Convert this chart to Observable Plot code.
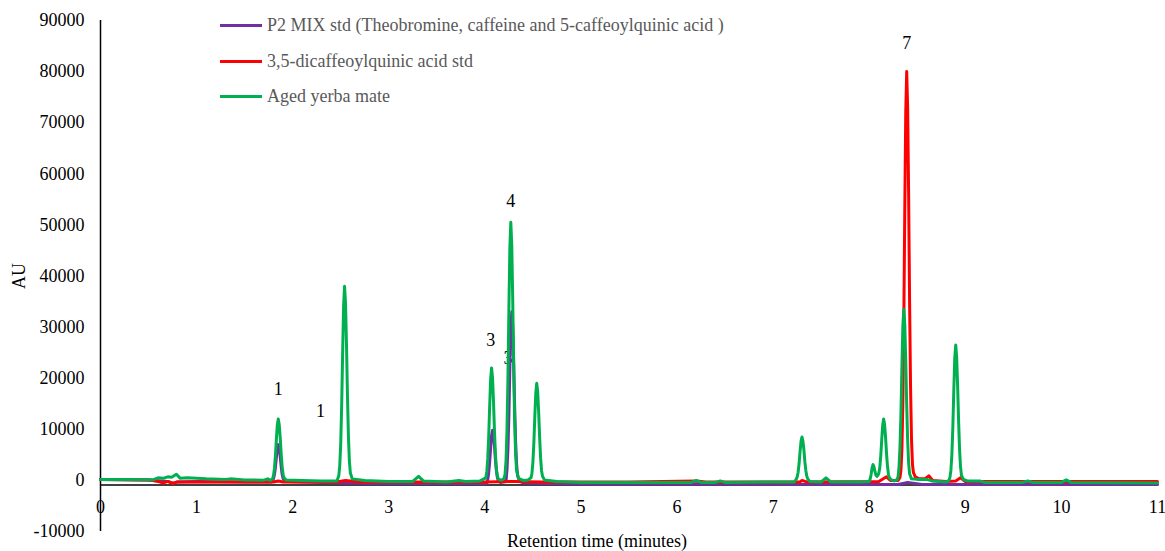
<!DOCTYPE html>
<html><head><meta charset="utf-8">
<script src="https://cdn.jsdelivr.net/npm/d3@7"></script>
<script src="https://cdn.jsdelivr.net/npm/@observablehq/plot@0.6"></script>
<style>
body{margin:0;background:#fff;}
#wrap{position:relative;width:1165px;height:551px;font-family:"Liberation Serif","Times New Roman",serif;}
#chart svg text{font-family:"Liberation Serif","Times New Roman",serif !important;}
#legend{position:absolute;left:220px;top:8px;font-size:18px;color:#595959;font-family:"Liberation Serif","Times New Roman",serif;}
.item{display:flex;align-items:center;height:35.5px;white-space:nowrap;}
.sw{width:42px;height:3px;margin-right:5px;}
</style></head><body><div id="wrap"><div id="chart"></div><div id="legend"></div></div>
<script>
const seriesNames = ["P2 MIX std (Theobromine, caffeine and 5-caffeoylquinic acid )", "3,5-dicaffeoylquinic acid std", "Aged yerba mate"];
const seriesColors = ["#7030A0", "#FF0000", "#00B050"];
const xTicks = [0,1,2,3,4,5,6,7,8,9,10,11];
const yTicks = [-10000,0,10000,20000,30000,40000,50000,60000,70000,80000,90000];

// [time (min), AU]
const p2Mix = [
 [0,200],[0.5,100],[0.7,-200],[0.76,-600],[0.8,-300],[1.0,-200],[1.5,-300],[1.78,-300],
 [1.79,-100],[1.80,300],[1.81,1100],[1.82,2500],[1.83,4400],[1.84,6200],[1.85,7000],[1.86,6300],
 [1.87,4700],[1.88,2800],[1.89,1200],[1.90,400],[1.92,-200],
 [2.5,-500],[3.0,-600],[4.02,-600],
 [4.03,100],[4.04,1500],[4.05,3600],[4.06,6300],[4.07,8800],[4.08,9800],[4.09,8900],[4.10,6700],
 [4.11,4000],[4.12,1900],[4.13,600],[4.14,-100],[4.16,-400],
 [4.22,-200],[4.23,2000],[4.24,6000],[4.25,12700],[4.26,21900],[4.27,29800],[4.28,33000],[4.29,30000],
 [4.30,23100],[4.31,14500],[4.32,7600],[4.33,3300],[4.34,1000],[4.36,-200],[4.4,-500],
 [4.6,-600],[5.0,-700],[8.0,-800],[8.3,-800],[8.4,-400],[8.55,-800],[11,-800]
];
const dicqa = [
 [0,200],[0.5,100],[0.6,-200],[0.65,-500],[0.7,-200],[0.75,-600],[0.8,-300],[0.9,-300],[1.2,-300],
 [1.8,-300],[1.85,-100],[1.9,-300],[2.45,-300],[2.55,0],[2.7,-300],[4.0,-300],[4.3,-200],[4.6,-300],
 [5.5,-300],[6.2,-100],[6.3,-300],[7.28,-300],[7.3,0],[7.35,-300],[8.1,-200],[8.18,700],[8.22,0],[8.3,0],
 [8.32,600],[8.33,2000],[8.34,6000],[8.35,15200],[8.36,31200],[8.37,52800],[8.38,72000],[8.39,80000],
 [8.40,72800],[8.41,56000],[8.42,35200],[8.43,18400],[8.44,8000],[8.45,3200],[8.46,1500],[8.48,700],
 [8.52,300],[8.58,300],[8.62,900],[8.66,0],[8.8,-200],[8.9,-100],[8.95,500],[9.0,-200],[11,-200]
];
const agedYerbaMate = [
 [0,200],[0.3,200],[0.55,150],[0.6,500],[0.65,400],[0.7,700],[0.74,600],[0.79,1200],[0.83,400],
 [0.9,500],[1.0,400],[1.1,300],[1.3,200],[1.35,300],[1.5,100],[1.7,50],[1.74,300],[1.77,0],
 [1.79,300],[1.80,900],[1.81,2300],[1.82,4700],[1.83,7900],[1.84,10800],[1.85,12000],[1.86,10900],
 [1.87,8400],[1.88,5300],[1.89,2800],[1.90,1200],[1.91,500],[1.93,100],
 [2.1,0],[2.3,-100],[2.46,-100],
 [2.48,900],[2.49,2900],[2.50,7200],[2.51,14800],[2.52,25000],[2.53,34200],[2.54,38000],[2.55,34600],
 [2.56,26600],[2.57,16700],[2.58,8700],[2.59,3800],[2.60,1500],[2.62,300],
 [2.75,0],[3.0,-200],[3.25,-200],[3.31,800],[3.36,-100],[3.6,-300],[3.73,0],[3.8,-200],[3.95,-100],
 [3.99,300],
 [4.01,500],[4.02,1700],[4.03,4200],[4.04,8600],[4.05,14500],[4.06,19800],[4.07,22000],[4.08,20000],
 [4.09,15400],[4.10,9700],[4.11,5100],[4.12,2200],[4.13,900],[4.14,300],[4.16,100],[4.18,100],[4.20,400],
 [4.21,1200],[4.22,3800],[4.23,9600],[4.24,19700],[4.25,33300],[4.26,45500],[4.27,50500],[4.28,46000],
 [4.29,35400],[4.30,22200],[4.31,11600],[4.32,5100],[4.33,2000],[4.35,400],[4.40,0],[4.45,100],
 [4.48,500],[4.49,1400],[4.50,3600],[4.51,7400],[4.52,12500],[4.53,17100],[4.54,19000],[4.55,17300],
 [4.56,13300],[4.57,8400],[4.58,4400],[4.59,1900],[4.60,800],[4.62,100],
 [4.75,-200],[5.0,-400],[6.15,-400],[6.2,0],[6.25,-400],[6.4,-400],[6.45,-100],[6.5,-400],
 [7.0,-300],[7.22,-300],
 [7.24,200],[7.25,650],[7.26,1600],[7.27,3300],[7.28,5600],[7.29,7650],[7.30,8500],[7.31,7700],
 [7.32,6000],[7.33,3700],[7.34,2000],[7.35,850],[7.36,300],[7.38,-200],
 [7.5,-300],[7.55,500],[7.6,-300],[7.9,-300],[8.0,-200],
 [8.01,300],[8.02,1200],[8.03,2500],[8.04,3100],[8.05,2600],[8.06,1700],[8.07,1000],[8.08,800],
 [8.09,1000],[8.10,1400],[8.11,2500],[8.12,4800],[8.13,7900],[8.14,10800],[8.15,12000],[8.16,10900],
 [8.17,8400],[8.18,5300],[8.19,2800],[8.20,1200],[8.21,500],[8.23,100],[8.26,-100],[8.28,0],[8.29,200],
 [8.30,700],[8.31,2600],[8.32,6500],[8.33,13000],[8.34,22100],[8.35,30200],[8.36,33500],[8.37,30500],
 [8.38,23500],[8.39,14700],[8.40,7700],[8.41,3400],[8.42,1300],[8.44,300],
 [8.5,200],[8.6,200],[8.65,-100],[8.8,-300],[8.83,0],
 [8.84,600],[8.85,2000],[8.86,5000],[8.87,10300],[8.88,17500],[8.89,23900],[8.90,26500],[8.91,24100],
 [8.92,18500],[8.93,11700],[8.94,6100],[8.95,2700],[8.96,1000],[8.98,200],
 [9.02,-100],[9.15,-100],[9.2,-400],[9.6,-400],[9.65,-100],[9.7,-400],[10.0,-400],[10.05,100],[10.1,-400],[11,-500]
];
const peakLabels = [
 {t:1.85, v:17800, label:"1"},
 {t:2.29, v:13500, label:"1"},
 {t:4.06, v:27400, label:"3"},
 {t:4.24, v:24000, label:"3"},
 {t:4.27, v:54600, label:"4"},
 {t:8.39, v:85500, label:"7"}
];
const xLabel = "Retention time (minutes)";
const yLabel = "AU";

const chart = Plot.plot({
  width: 1165, height: 551,
  marginLeft: 100, marginRight: 8, marginTop: 20, marginBottom: 20,
  style: {fontFamily: "Liberation Serif", fontSize: "18px", background: "#fff", color: "#000"},
  x: {domain: [0, 11]},
  y: {domain: [-10000, 90000]},
  marks: [
    Plot.axisY(yTicks, {tickSize: 0, tickPadding: 16, label: yLabel, labelAnchor: "center", labelArrow: "none", labelOffset: 88, tickFormat: d => String(d), fontSize: 18}),
    Plot.axisX(xTicks, {tickSize: 0, anchor: "bottom", dy: -40, label: null, tickFormat: d => String(d), fontSize: 18}),
    Plot.text(peakLabels, {x: "t", y: "v", text: "label", fontSize: 18, fill: "#000"}),
    Plot.ruleY([-900], {x1: 0, x2: 11, stroke: "#000", strokeWidth: 1.5}),
    Plot.ruleX([0], {stroke: "#000", strokeWidth: 1.5}),
    Plot.line(p2Mix, {x: d => d[0], y: d => d[1], stroke: seriesColors[0], strokeWidth: 3}),
    Plot.line(dicqa, {x: d => d[0], y: d => d[1], stroke: seriesColors[1], strokeWidth: 3}),
    Plot.line(agedYerbaMate, {x: d => d[0], y: d => d[1], stroke: seriesColors[2], strokeWidth: 3}),
    Plot.text([xLabel], {frameAnchor: "bottom", dx: -32, dy: 15, fontSize: 18, fill: "#000"})
  ]
});
document.getElementById("chart").appendChild(chart);
const lg = document.getElementById("legend");
seriesNames.forEach((n, i) => {
  const it = document.createElement("div"); it.className = "item";
  const sw = document.createElement("span"); sw.className = "sw"; sw.style.background = seriesColors[i];
  const tx = document.createElement("span"); tx.textContent = n;
  it.appendChild(sw); it.appendChild(tx); lg.appendChild(it);
});
</script></body></html>
